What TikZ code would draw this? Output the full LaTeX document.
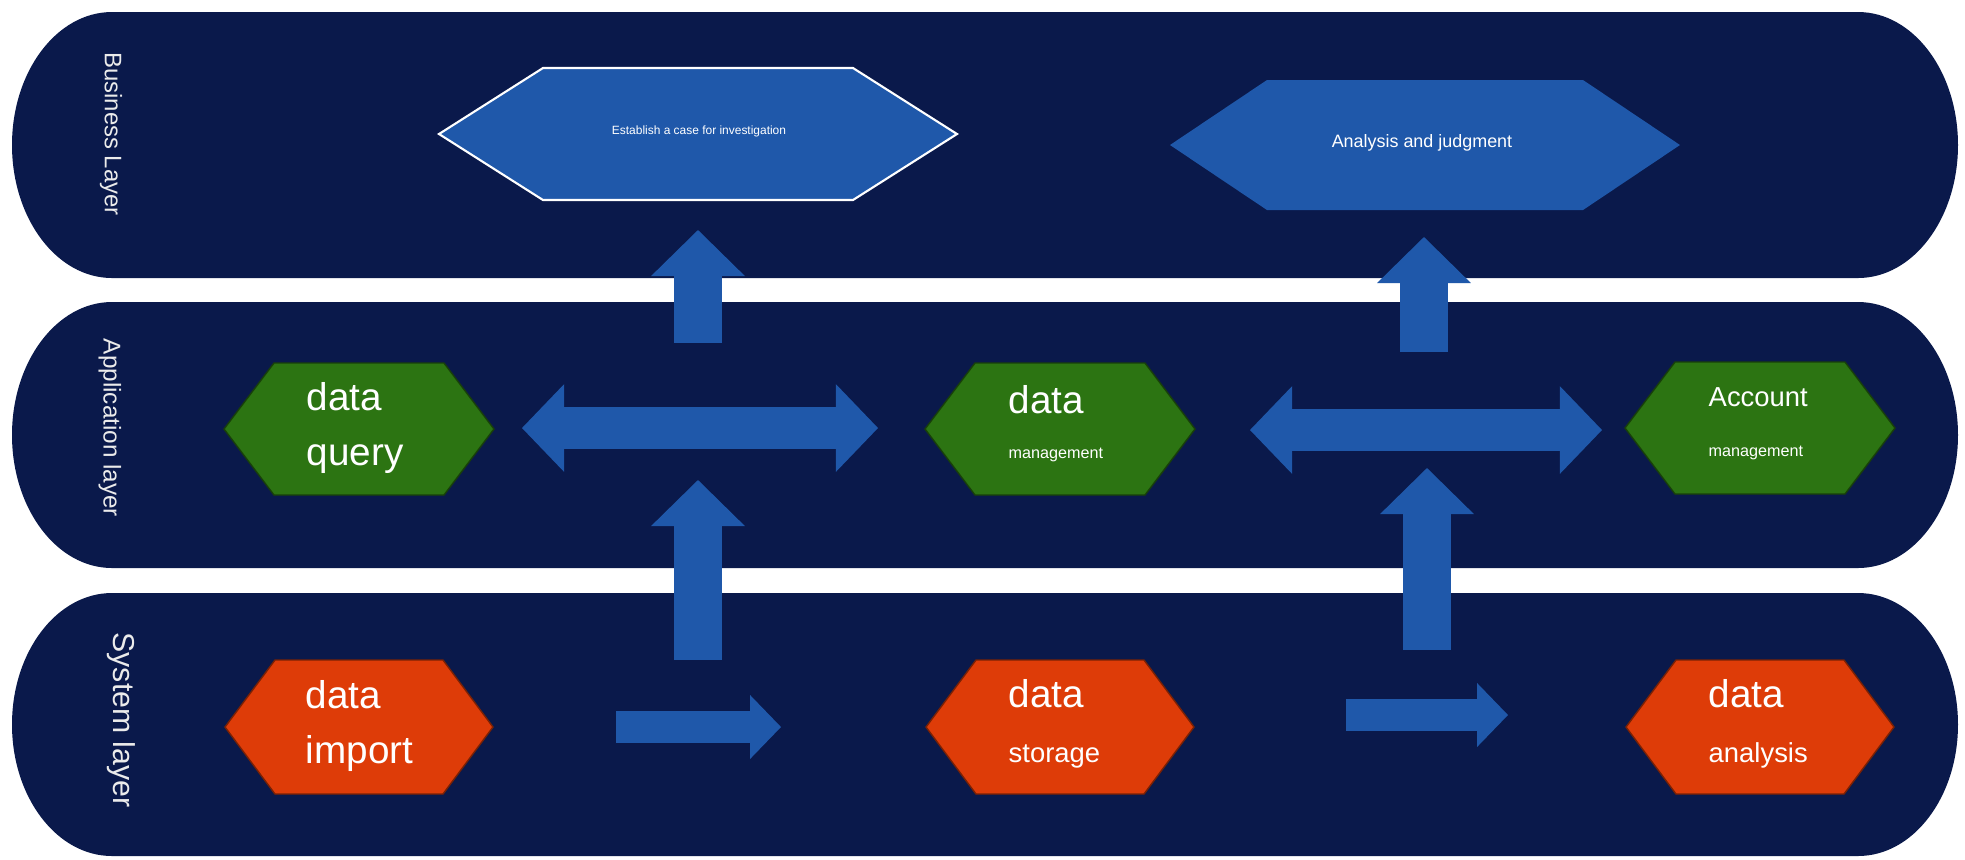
\documentclass[tikz,border=0pt]{standalone}
\usepackage{fontspec}
\setmainfont{Liberation Sans}
\usepackage{tikz}
\usetikzlibrary{arrows.meta}
\usepackage{xcolor}

\definecolor{layernavy}{RGB}{10,25,75}
\definecolor{arrowblue}{RGB}{31,88,170}
\definecolor{appgreen}{RGB}{44,116,18}
\definecolor{sysorange}{RGB}{222,60,8}

% hexagon: x, y, half flat width, half height, tip length, style
\newcommand{\hexpath}[6]{%
  \path[#6] ({#1-#3-#5},#2) -- ({#1-#3},{#2-#4}) -- ({#1+#3},{#2-#4})
    -- ({#1+#3+#5},#2) -- ({#1+#3},{#2+#4}) -- ({#1-#3},{#2+#4}) -- cycle;}

% layer band: top, bottom
\newcommand{\layerband}[2]{%
  \fill[layernavy] (112,#1) -- (1858,#1)
    arc[start angle=-90, end angle=90, x radius=100, y radius={(#2-#1)/2}]
    -- (112,#2)
    arc[start angle=90, end angle=270, x radius=100, y radius={(#2-#1)/2}] -- cycle;}

\begin{document}
\begin{tikzpicture}[x=0.01cm, y=-0.01cm,
    layerlabel/.style={rotate=-90, text=black!8, inner sep=0pt},
    hextext/.style={text=white, align=left, anchor=west, inner sep=0pt},
    bigarrow/.style={draw=arrowblue, line width=13.7pt,
      -{Triangle[length=13.1pt,width=26.7pt,line width=0pt]}},
    dblarrow/.style={draw=arrowblue, line width=12.2pt,
      {Triangle[length=12pt,width=25pt,line width=0pt]}-{Triangle[length=12pt,width=25pt,line width=0pt]}},
    smallarrow/.style={draw=arrowblue, line width=9pt,
      -{Triangle[length=8.8pt,width=18.2pt,line width=0pt]}}]

    \useasboundingbox[fill=white] (0,0) rectangle (1965,859);

    % Layers
    \layerband{12}{278}
    \layerband{302}{568}
    \layerband{593}{856}

    \node[layerlabel, font=\fontsize{6.8}{8}\selectfont] (bizlayer) at (111,134) {Business Layer};
    \node[layerlabel, font=\fontsize{6.9}{8}\selectfont] (applayer) at (110,428) {Application layer};
    \node[layerlabel, font=\fontsize{8.6}{10}\selectfont] (syslayer) at (121,720) {System layer};

    % Business layer
    \hexpath{698}{134}{155}{66}{104}{fill=arrowblue, draw=white, line width=0.6pt}
    \node[text=white, font=\fontsize{3.4}{4}\selectfont] (case) at (699,131) {Establish a case for investigation};

    \hexpath{1425}{145}{158}{65}{97}{fill=arrowblue}
    \node[text=white, font=\fontsize{5.1}{6}\selectfont] (judge) at (1422,143) {Analysis and judgment};

    % Application layer
    \hexpath{359}{429}{85}{66}{50}{fill=appgreen, draw=appgreen!55!black, line width=0.4pt}
    \node[hextext, font=\fontsize{11}{15.5}\selectfont] (query) at (306,428) {data\\query};

    \hexpath{1060}{429}{85}{66}{50}{fill=appgreen, draw=appgreen!55!black, line width=0.4pt}
    \node[hextext, font=\fontsize{11}{12.8}\selectfont] (datamgmt) at (1008,424) {data\\{\fontsize{4.6}{5}\selectfont management}};

    \hexpath{1760}{428}{85}{66}{50}{fill=appgreen, draw=appgreen!55!black, line width=0.4pt}
    \node[hextext, font=\fontsize{7.8}{14.2}\selectfont] (acctmgmt) at (1708,424) {Account\\{\fontsize{4.6}{5}\selectfont management}};

    % System layer
    \hexpath{359}{727}{84}{67}{50}{fill=sysorange, draw=sysorange!55!black, line width=0.4pt}
    \node[hextext, font=\fontsize{11}{15.5}\selectfont] (import) at (305,726) {data\\import};

    \hexpath{1060}{727}{84}{67}{50}{fill=sysorange, draw=sysorange!55!black, line width=0.4pt}
    \node[hextext, font=\fontsize{11}{15.5}\selectfont] (storage) at (1008,724) {data\\{\fontsize{7.8}{9}\selectfont storage}};

    \hexpath{1760}{727}{84}{67}{50}{fill=sysorange, draw=sysorange!55!black, line width=0.4pt}
    \node[hextext, font=\fontsize{11}{15.5}\selectfont] (analysis) at (1708,724) {data\\{\fontsize{7.8}{9}\selectfont analysis}};

    % Arrow ends
    \coordinate (caseup-s) at (698,343);
    \coordinate (caseup-e) at (698,230);
    \coordinate (judgeup-s) at (1424,352);
    \coordinate (judgeup-e) at (1424,237);
    \coordinate (queryto-s) at (522,428);
    \coordinate (queryto-e) at (878,428);
    \coordinate (acctto-s) at (1250,430);
    \coordinate (acctto-e) at (1602,430);
    \coordinate (importup-s) at (698,660);
    \coordinate (importup-e) at (698,480);
    \coordinate (storeup-s) at (1427,650);
    \coordinate (storeup-e) at (1427,468);
    \coordinate (importto-s) at (616,727);
    \coordinate (importto-e) at (781,727);
    \coordinate (storeto-s) at (1346,715);
    \coordinate (storeto-e) at (1508,715);

    % Arrows
    \draw[bigarrow] (caseup-s) -- (caseup-e);
    \draw[bigarrow] (judgeup-s) -- (judgeup-e);
    \draw[bigarrow] (importup-s) -- (importup-e);
    \draw[bigarrow] (storeup-s) -- (storeup-e);
    \draw[dblarrow] (queryto-s) -- (queryto-e);
    \draw[dblarrow] (acctto-s) -- (acctto-e);
    \draw[smallarrow] (importto-s) -- (importto-e);
    \draw[smallarrow] (storeto-s) -- (storeto-e);
\end{tikzpicture}
\end{document}
